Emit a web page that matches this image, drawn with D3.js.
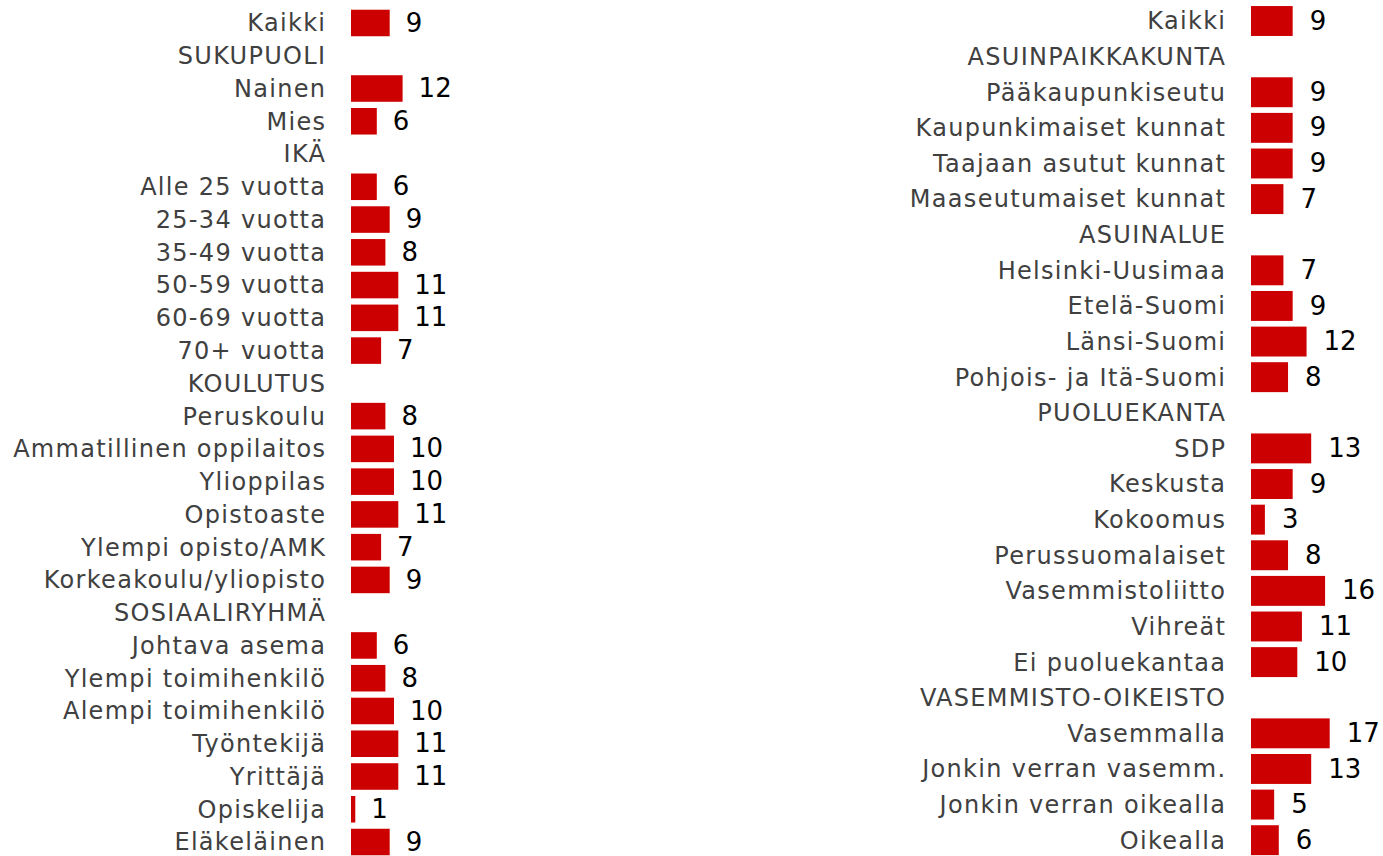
<!doctype html>
<html lang="fi">
  <head>
    <meta charset="utf-8">
    <title>Ryhmittäin</title>
    <script src="https://d3js.org/d3.v7.min.js"></script>
    <style>
      body { margin: 0; background: #fff; }
      svg { display: block; font-family: "DejaVu Sans", Verdana, sans-serif; }
    </style>
  </head>
  <body>
    <svg width="1383" height="856"></svg>
    <script>
      // vasen paneeli
      var leftLabels = ["Kaikki", "SUKUPUOLI", "Nainen", "Mies", "IKÄ", "Alle 25 vuotta", "25-34 vuotta",
        "35-49 vuotta", "50-59 vuotta", "60-69 vuotta", "70+ vuotta", "KOULUTUS", "Peruskoulu",
        "Ammatillinen oppilaitos", "Ylioppilas", "Opistoaste", "Ylempi opisto/AMK", "Korkeakoulu/yliopisto",
        "SOSIAALIRYHMÄ", "Johtava asema", "Ylempi toimihenkilö", "Alempi toimihenkilö", "Työntekijä",
        "Yrittäjä", "Opiskelija", "Eläkeläinen"];
      var leftValues = [9, null, 12, 6, null, 6, 9, 8, 11, 11, 7, null, 8, 10, 10, 11, 7, 9,
        null, 6, 8, 10, 11, 11, 1, 9];

      // oikea paneeli
      var rightLabels = ["Kaikki", "ASUINPAIKKAKUNTA", "Pääkaupunkiseutu", "Kaupunkimaiset kunnat",
        "Taajaan asutut kunnat", "Maaseutumaiset kunnat", "ASUINALUE", "Helsinki-Uusimaa", "Etelä-Suomi",
        "Länsi-Suomi", "Pohjois- ja Itä-Suomi", "PUOLUEKANTA", "SDP", "Keskusta", "Kokoomus",
        "Perussuomalaiset", "Vasemmistoliitto", "Vihreät", "Ei puoluekantaa", "VASEMMISTO-OIKEISTO",
        "Vasemmalla", "Jonkin verran vasemm.", "Jonkin verran oikealla", "Oikealla"];
      var rightValues = [9, null, 9, 9, 9, 7, null, 7, 9, 12, 8, null, 13, 9, 3, 8, 16, 11, 10,
        null, 17, 13, 5, 6];

      var svg = d3.select("svg");

      function panel(labels, values, opt) {
        var rows = labels.map(function(l, i) { return {label: l, value: values[i], key: i}; });

        var y = d3.scaleBand()
            .domain(rows.map(function(d) { return d.key; }))
            .range([opt.top, opt.bottom])
            .paddingInner(opt.pad)
            .paddingOuter(opt.pad / 2);
        var x = d3.scaleLinear()
            .domain([0, 20])
            .range([0, opt.unit * 20]);

        var g = svg.append("g").attr("transform", "translate(" + opt.x0 + ",0)");

        g.selectAll("text.label")
          .data(rows)
          .enter().append("text")
            .attr("class", "label")
            .attr("x", -24.7)
            .attr("y", function(d) { return y(d.key) + y.bandwidth() / 2; })
            .attr("dy", "0.35em")
            .attr("text-anchor", "end")
            .attr("font-size", 24)
            .attr("letter-spacing", "1.3px")
            .attr("fill", "#404040")
            .text(function(d) { return d.label; });

        var withVal = rows.filter(function(d) { return d.value != null; });

        g.selectAll("rect")
          .data(withVal)
          .enter().append("rect")
            .attr("x", x(0))
            .attr("y", function(d) { return y(d.key); })
            .attr("width", function(d) { return x(d.value); })
            .attr("height", y.bandwidth())
            .attr("fill", "#cc0000");

        g.selectAll("text.val")
          .data(withVal)
          .enter().append("text")
            .attr("class", "val")
            .attr("x", function(d) { return x(d.value) + opt.gap; })
            .attr("y", function(d) { return y(d.key) + y.bandwidth() / 2; })
            .attr("dy", "0.33em")
            .attr("font-size", 26)
            .attr("fill", "#000")
            .text(function(d) { return d.value; });
      }

      panel(leftLabels, leftValues, {x0: 351, top: 6.6, bottom: 858.4, pad: 0.19, unit: 4.3, gap: 16});
      panel(rightLabels, rightValues, {x0: 1251, top: 3.2, bottom: 858.0, pad: 0.16, unit: 4.63, gap: 17});
    </script>
  </body>
</html>
